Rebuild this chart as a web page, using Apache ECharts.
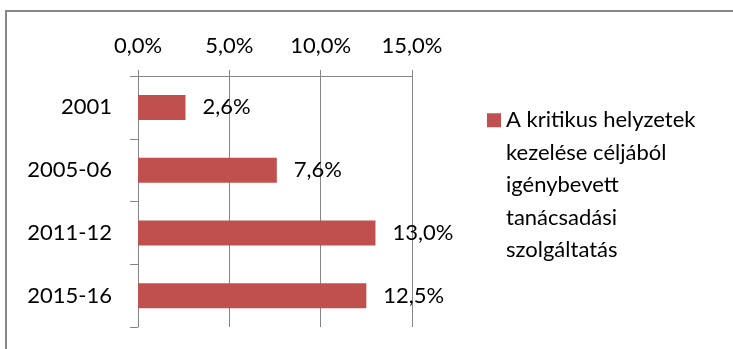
<!DOCTYPE html>
<html>
<head>
<meta charset="utf-8">
<script src="https://cdn.jsdelivr.net/npm/echarts@6/dist/echarts.min.js"></script>
<style>html,body{margin:0;padding:0;background:#fff;}#c{width:733px;height:349px;}</style>
</head>
<body>
<div id="c"></div>
<script>
const categories = ['2001', '2005-06', '2011-12', '2015-16'];
const seriesName = 'A kritikus helyzetek kezelése céljából igénybevett tanácsadási szolgáltatás';
const legendLines = ['A kritikus helyzetek', 'kezelése céljából', 'igénybevett', 'tanácsadási', 'szolgáltatás'];
const values = [2.6, 7.6, 13.0, 12.5];
const axisMin = 0, axisMax = 15, axisStep = 5;

const fmt = v => v.toFixed(1).replace('.', ',') + '%';
const font = 'Lato, "Open Sans", sans-serif';
const gray = '#868686';

// pad with empty lines above so the first line sits beside the legend square
const legendText = legendLines.slice(1).map(() => '').concat(legendLines).join('\n');

const chart = echarts.init(document.getElementById('c'), null, {renderer: 'canvas'});
chart.setOption({
  animation: false,
  backgroundColor: '#fff',
  textStyle: {fontFamily: font},
  graphic: [{
    type: 'rect', z: -10, silent: true,
    shape: {x: 6, y: 11, width: 800, height: 400},
    style: {fill: 'none', stroke: '#878787', lineWidth: 2}
  }],
  grid: {left: 138, right: 321, top: 76, bottom: 22, containLabel: false},
  xAxis: {
    type: 'value', position: 'top', min: axisMin, max: axisMax, interval: axisStep,
    axisLine: {show: true, lineStyle: {color: gray, width: 1}},
    axisTick: {show: true, length: 6, lineStyle: {color: gray}},
    splitLine: {show: true, lineStyle: {color: gray, width: 1}},
    axisLabel: {formatter: fmt, fontSize: 22, color: '#000', margin: 19, fontFamily: font}
  },
  yAxis: {
    type: 'category', data: categories, inverse: true,
    axisLine: {show: true, lineStyle: {color: gray, width: 1}},
    axisTick: {show: true, length: 8, lineStyle: {color: gray}},
    axisLabel: {fontSize: 22, color: '#000', margin: 26, fontFamily: font}
  },
  legend: {
    show: true, orient: 'vertical', left: 487, top: -26, padding: 0,
    icon: 'rect', itemWidth: 14, itemHeight: 14, itemGap: 6,
    formatter: () => legendText,
    textStyle: {fontSize: 22, color: '#000', lineHeight: 32.5, fontFamily: font},
    data: [seriesName]
  },
  series: [{
    name: seriesName, type: 'bar', data: values, barWidth: 25,
    itemStyle: {color: '#C0504D'},
    label: {show: true, position: 'right', distance: 17, formatter: p => fmt(p.value),
      fontSize: 22, color: '#000', fontFamily: font}
  }]
});
</script>
</body>
</html>
